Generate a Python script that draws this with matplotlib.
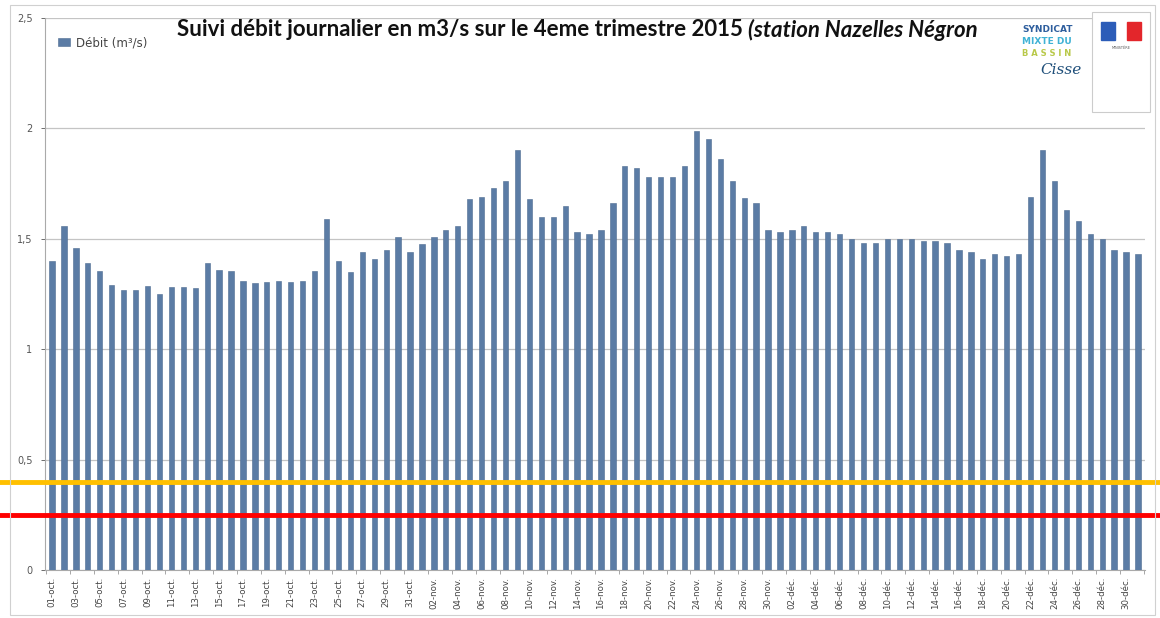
import numpy as np
import matplotlib
matplotlib.use("Agg")
from matplotlib import pyplot as plt
from matplotlib.patches import Rectangle

# daily flow (m3/s), 4th quarter 2015
debit_oct = [1.40, 1.56, 1.46, 1.39, 1.355, 1.29, 1.27, 1.27, 1.285, 1.25,
             1.28, 1.28, 1.275, 1.39, 1.36, 1.355, 1.31, 1.30, 1.305, 1.31,
             1.305, 1.31, 1.355, 1.59, 1.40, 1.35, 1.44, 1.41, 1.45, 1.51, 1.44]
debit_nov = [1.475, 1.51, 1.54, 1.56, 1.68, 1.69, 1.73, 1.76, 1.90, 1.68,
             1.60, 1.60, 1.65, 1.53, 1.52, 1.54, 1.66, 1.83, 1.82, 1.78,
             1.78, 1.78, 1.83, 1.99, 1.95, 1.86, 1.76, 1.685, 1.66, 1.54]
debit_dec = [1.53, 1.54, 1.56, 1.53, 1.53, 1.52, 1.50, 1.48, 1.48, 1.50,
             1.50, 1.50, 1.49, 1.49, 1.48, 1.45, 1.44, 1.41, 1.43, 1.42,
             1.43, 1.69, 1.90, 1.76, 1.63, 1.58, 1.52, 1.50, 1.45, 1.44, 1.43]
mois = ['oct.', 'nov.', 'déc.']

seuil_vigilance = 0.40
seuil_alerte = 0.25

yticks = [0, 0.5, 1, 1.5, 2, 2.5]
ytick_labels = ['0', '0,5', '1', '1,5', '2', '2,5']

debit = debit_oct + debit_nov + debit_dec
jours = []
for m, serie in zip(mois, [debit_oct, debit_nov, debit_dec]):
    jours += [f'{d:02d}-{m}' for d in range(1, len(serie) + 1)]

fig = plt.figure(figsize=(11.6, 6.18), dpi=100)
ax = fig.add_axes([45 / 1160, 1 - 570 / 618, 1100 / 1160, 552 / 618])

x = np.arange(len(debit))
ax.bar(x, debit, width=0.44, color='#5b7ca5', edgecolor='#4d6b91',
       linewidth=0.4, label='Débit (m³/s)', zorder=3)

ax.set_xlim(-0.59, len(debit) - 1 + 0.59)
ax.set_ylim(0, 2.5)
ax.set_yticks(yticks)
ax.set_yticklabels(ytick_labels)
ax.yaxis.grid(True, color='#c4c4c4', linewidth=0.9, zorder=0)
ax.tick_params(axis='y', labelsize=7, colors='#555555', length=3, width=0.6,
               pad=6)

ax.set_xticks(x[::2])
ax.set_xticklabels(jours[::2], rotation=90, fontsize=6.2, color='#444444')
ax.set_xticks(np.arange(-0.5, len(debit), 2), minor=True)
ax.tick_params(axis='x', which='major', length=0, pad=5)
ax.tick_params(axis='x', which='minor', length=3, width=0.6, color='#999999')

for side in ['top', 'right']:
    ax.spines[side].set_visible(False)
ax.spines['left'].set_color('#aaaaaa')
ax.spines['bottom'].set_color('#aaaaaa')

ax.legend(loc='center left', bbox_to_anchor=(0.012, 0.955), frameon=False,
          fontsize=8.5, handlelength=1.0, handleheight=0.7, handletextpad=0.5,
          borderpad=0, borderaxespad=0, labelcolor='#444444')

# thresholds drawn across the whole picture
ax.axhline(seuil_vigilance, xmin=-0.041, xmax=1.02, color='#ffc000',
           linewidth=3.5, clip_on=False, zorder=5)
ax.axhline(seuil_alerte, xmin=-0.041, xmax=1.02, color='#ff0000',
           linewidth=3.5, clip_on=False, zorder=5)

# title: bold part + italic part
t1 = fig.text(177 / 1160, 1 - 30 / 618,
              'Suivi débit journalier en m3/s sur le 4eme trimestre 2015 ',
              fontsize=16, fontweight='bold', family='Lato',
              va='center', ha='left', color='#111111')
ax.annotate('(station Nazelles Négron', xy=(1, 0.5), xycoords=t1,
            fontsize=16, fontweight='bold', fontstyle='italic',
            family='Lato', va='center', ha='left', color='#111111')

# logos (rough)
fig.text(1022 / 1160, 1 - 30 / 618, 'SYNDICAT', fontsize=6.5, fontweight='bold',
         color='#2f5f9e', ha='left', va='center')
fig.text(1022 / 1160, 1 - 42 / 618, 'MIXTE DU', fontsize=6.5, fontweight='bold',
         color='#3fb2d5', ha='left', va='center')
fig.text(1022 / 1160, 1 - 54 / 618, 'B A S S I N', fontsize=6, fontweight='bold',
         color='#b9c94a', ha='left', va='center')
fig.text(1040 / 1160, 1 - 70 / 618, 'Cisse', fontsize=11, fontstyle='italic',
         color='#1f4f7a', ha='left', va='center', family='DejaVu Serif')
fig.add_artist(Rectangle((1092 / 1160, 1 - 112 / 618), 58 / 1160, 100 / 618,
                         transform=fig.transFigure, facecolor='white',
                         edgecolor='#cccccc', linewidth=0.8))
fig.add_artist(Rectangle((1101 / 1160, 1 - 40 / 618), 14 / 1160, 18 / 618,
                         transform=fig.transFigure, color='#2b5cb8'))
fig.add_artist(Rectangle((1127 / 1160, 1 - 40 / 618), 14 / 1160, 18 / 618,
                         transform=fig.transFigure, color='#e3262b'))
fig.text(1121 / 1160, 1 - 48 / 618, 'MINISTÈRE', fontsize=2.5, color='#555555',
         ha='center', va='center')

# outer chart border
fig.add_artist(Rectangle((10 / 1160, 0.005), 1145 / 1160, 1 - 5 / 618 - 0.005,
                         transform=fig.transFigure, fill=False,
                         edgecolor='#d0d0d0', linewidth=0.8))

fig.savefig('out.png', dpi=100)
